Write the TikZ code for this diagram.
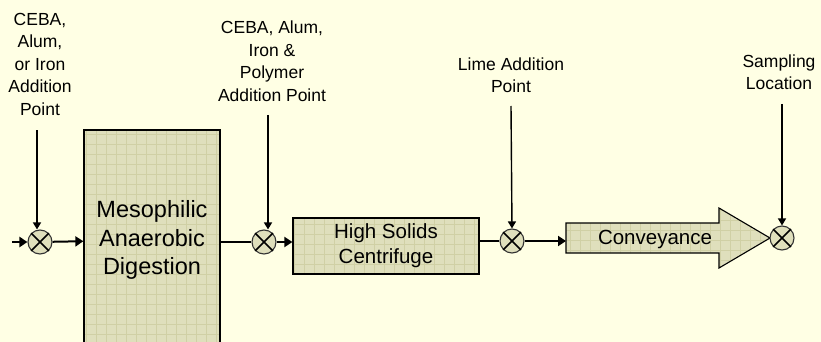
\documentclass[tikz,border=0pt]{standalone}
\usepackage{fontspec}
\setmainfont{Liberation Sans}
\usetikzlibrary{positioning, arrows.meta}
\definecolor{paper}{RGB}{255,255,228}
\definecolor{tank}{RGB}{223,223,188}
\definecolor{tankgrid}{RGB}{208,208,165}

\begin{document}
\begin{tikzpicture}[
    x=1pt, y=-1pt,
    node distance=10pt,
    unit/.style={draw=black, line width=1.3pt, fill=tank, align=center, inner sep=0pt,
        path picture={\draw[tankgrid, line width=0.5pt, step=10pt] (path picture bounding box.south west) grid (path picture bounding box.north east);}},
    mixer/.style={circle, draw=black!80, line width=1.1pt, fill=tank, minimum size=24pt, inner sep=0pt},
    note/.style={align=center, inner sep=0pt, font=\fontsize{17.5}{22.5}\selectfont},
    flow/.style={-{Triangle[length=8pt, width=10pt]}, line width=2pt},
    pipe/.style={line width=1.8pt},
    feed/.style={-{Triangle[length=7pt, width=8pt]}, line width=1.4pt}
]
    \fill[paper] (0,0) rectangle (821,342);
    \useasboundingbox (0,0) rectangle (821,342);

    \node[unit, minimum width=136pt, minimum height=220pt, font=\fontsize{23.5}{28.5}\selectfont] (digest) at (152,240) {Mesophilic\\Anaerobic\\Digestion};
    \node[unit, minimum width=186pt, minimum height=56pt, font=\fontsize{20.5}{25}\selectfont] (centri) at (386,246) {High Solids\\Centrifuge};

    \fill[tank] (566,223) -- (719,223) -- (719,208) -- (770,238) -- (719,268) -- (719,253) -- (566,253) -- cycle;
    \begin{scope}
        \clip (566,223) -- (719,223) -- (719,208) -- (770,238) -- (719,268) -- (719,253) -- (566,253) -- cycle;
        \draw[tankgrid, line width=0.5pt, step=10pt] (560,200) grid (780,270);
    \end{scope}
    \draw[line width=1.1pt, line join=miter] (566,223) -- (719,223) -- (719,208) -- (770,238) -- (719,268) -- (719,253) -- (566,253) -- cycle;
    \coordinate (convin) at (566,238);
    \coordinate (convtip) at (770,238);
    \node[inner sep=0pt, font=\fontsize{20.5}{25}\selectfont] (convey) at (655,239) {Conveyance};

    \node[mixer] (mix1) at (40,242) {};
    \node[mixer] (mix2) at (264,242) {};
    \node[mixer] (mix3) at (512,241) {};
    \node[mixer] (mix4) at (782,238) {};
    \foreach \m in {mix1, mix2, mix3, mix4} {
        \draw[line width=1.6pt] (\m.north east) -- (\m.south west);
        \draw[line width=1.6pt] (\m.north west) -- (\m.south east);
    }

    \node[note] (lab1) at (40,64) {CEBA,\\Alum,\\or Iron\\Addition\\Point};
    \node[note] (lab2) at (272,61) {CEBA, Alum,\\Iron \&\\Polymer\\Addition Point};
    \node[note] (lab3) at (511,75) {Lime Addition\\Point};
    \node[note] (lab4) at (779,72) {Sampling\\Location};

    \coordinate (in) at (12,242);
    \coordinate (top1) at (37,130);
    \coordinate (top2) at (268,115);
    \coordinate (top3) at (511,106);
    \coordinate (top4) at (782,104);

    \draw[flow] (in) -- (mix1.west);
    \draw[flow] (mix1) -- (digest);
    \draw[pipe] (digest.east |- mix2) -- (mix2.west);
    \draw[flow] (mix2) -- (centri.west |- mix2);
    \draw[pipe] (centri.east |- mix3) -- (mix3.west);
    \draw[flow] (mix3.east) -- (convin |- mix3);

    \draw[feed] (top1) -- (top1 |- mix1.north);
    \draw[feed] (top2) -- (top2 |- mix2.north);
    \draw[feed] (top3) -- (mix3.north);
    \draw[feed] (top4) -- (mix4.north);
\end{tikzpicture}
\end{document}
